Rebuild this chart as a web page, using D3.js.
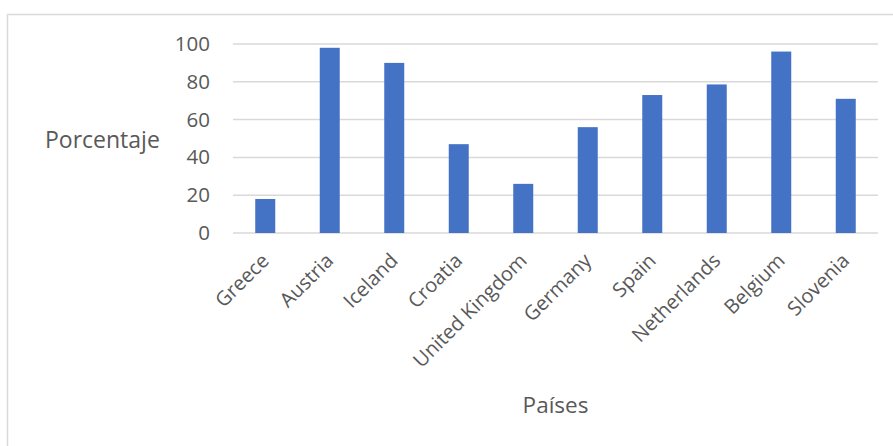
<!DOCTYPE html>
<html><head><meta charset="utf-8">
<script src="https://cdn.jsdelivr.net/npm/d3@7"></script>
<style>body{margin:0;background:#fff}svg{display:block}text{font-family:"Open Sans",Calibri,sans-serif;fill:#595959}</style>
</head><body><svg id="c" width="893" height="446"></svg>
<script>
const categories = ["Greece","Austria","Iceland","Croatia","United Kingdom","Germany","Spain","Netherlands","Belgium","Slovenia"];
const values = [18, 98, 90, 47, 26, 56, 73, 78.6, 96, 71];
const yTicks = [0, 20, 40, 60, 80, 100];
const yTitle = "Porcentaje";
const xTitle = "Países";

(function () {
const svg = d3.select("#c");
const W = 893, H = 446;
const mLeft = 233, mRight = 878, mTop = 44, mBottom = 233;

// outer frame
svg.append("rect").attr("x", 7.5).attr("y", 14.5).attr("width", W + 10).attr("height", H + 10)
  .attr("fill", "none").attr("stroke", "#D9D9D9").attr("stroke-width", 1.5);

const x = d3.scaleBand().domain(categories).range([mLeft, mRight]).paddingInner(0.69).paddingOuter(0.345);
const y = d3.scaleLinear().domain([0, 100]).range([mBottom, mTop]);

// gridlines
svg.append("g").selectAll("line").data(yTicks).join("line")
  .attr("x1", mLeft).attr("x2", mRight)
  .attr("y1", d => y(d)).attr("y2", d => y(d))
  .attr("stroke", "#D9D9D9").attr("stroke-width", 1.5);

// y axis labels
const yAxis = svg.append("g").attr("transform", `translate(${mLeft},0)`)
  .call(d3.axisLeft(y).tickValues(yTicks).tickSize(0).tickPadding(23));
yAxis.select(".domain").remove();
yAxis.selectAll("text").attr("font-size", 20.5).style("fill", "#595959").attr("font-family", '"Open Sans",sans-serif');

// bars
svg.append("g").selectAll("rect").data(values).join("rect")
  .attr("x", (d, i) => x(categories[i]))
  .attr("width", x.bandwidth())
  .attr("y", d => y(d))
  .attr("height", d => y(0) - y(d))
  .attr("fill", "#4472C4");

// x labels
svg.append("g").selectAll("text").data(categories).join("text")
  .attr("transform", d => `translate(${x(d) + x.bandwidth()/2},${mBottom + 24}) rotate(-45)`)
  .attr("text-anchor", "end")
  .attr("dy", "0.35em")
  .attr("font-size", 20)
  .text(d => d);

// axis titles
svg.append("text").attr("x", 45).attr("y", 148).attr("font-size", 23).text(yTitle);
svg.append("text").attr("x", (mLeft + mRight) / 2).attr("y", 413).attr("text-anchor", "middle").attr("font-size", 22.5).text(xTitle);
})();
</script></body></html>
